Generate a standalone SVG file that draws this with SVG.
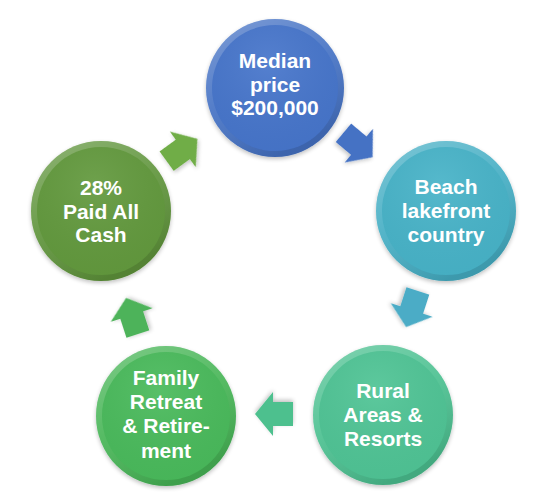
<svg xmlns="http://www.w3.org/2000/svg" width="543" height="502" viewBox="0 0 543 502">
<defs>
<filter id="sh" x="-20%" y="-20%" width="140%" height="150%">
<feGaussianBlur in="SourceAlpha" stdDeviation="2"/>
<feOffset dx="0" dy="2" result="b"/>
<feComponentTransfer><feFuncA type="linear" slope="0.25"/></feComponentTransfer>
<feMerge><feMergeNode/><feMergeNode in="SourceGraphic"/></feMerge>
</filter>
<linearGradient id="rim" x1="0" y1="0" x2="0.5" y2="1">
<stop offset="0" stop-color="#fff" stop-opacity="0.3"/>
<stop offset="0.55" stop-color="#fff" stop-opacity="0.08"/>
<stop offset="1" stop-color="#000" stop-opacity="0.12"/>
</linearGradient>
<radialGradient id="face" cx="0.45" cy="0.3" r="0.8">
<stop offset="0" stop-color="#fff" stop-opacity="0.08"/>
<stop offset="1" stop-color="#000" stop-opacity="0.03"/>
</radialGradient>
<path id="arr" d="M-19,-12 L1,-12 L1,-22 L19,0 L1,22 L1,12 L-19,12 Z"/>
</defs>
<style>
.lbl{font-family:"Liberation Sans",Arial,sans-serif;font-weight:bold;font-size:21px;fill:#fff;text-anchor:middle}
.rim{fill:url(#rim)}
.face{fill:url(#face)}
</style>
<g id="connectors">
<use href="#arr" fill="#4472C4" filter="url(#sh)" transform="translate(358,145) rotate(40)"/>
<use href="#arr" fill="#4BACC6" filter="url(#sh)" transform="translate(412,309) rotate(108)"/>
<use href="#arr" fill="#4DC08E" filter="url(#sh)" transform="translate(274,414) rotate(180)"/>
<use href="#arr" fill="#4DB35A" filter="url(#sh)" transform="translate(132,316) rotate(252)"/>
<use href="#arr" fill="#70AD47" filter="url(#sh)" transform="translate(182,150) rotate(324)"/>
</g>
<g id="n1">
<circle cx="275" cy="88" r="69" fill="#4472C4" filter="url(#sh)"/>
<circle cx="275" cy="88" r="69" class="rim"/>
<circle cx="275" cy="88" r="63" fill="#4675CB"/>
<circle cx="275" cy="88" r="63" class="face"/>
<text class="lbl" x="275" y="68">Median</text>
<text class="lbl" x="275" y="92">price</text>
<text class="lbl" x="275" y="115">$200,000</text>
</g>
<g id="n2">
<circle cx="446" cy="211" r="70" fill="#44AEC4" filter="url(#sh)"/>
<circle cx="446" cy="211" r="70" class="rim"/>
<circle cx="446" cy="211" r="64" fill="#47B3C8"/>
<circle cx="446" cy="211" r="64" class="face"/>
<text class="lbl" x="446" y="194">Beach</text>
<text class="lbl" x="446" y="218">lakefront</text>
<text class="lbl" x="446" y="242">country</text>
</g>
<g id="n3">
<circle cx="383" cy="415" r="70" fill="#4CC090" filter="url(#sh)"/>
<circle cx="383" cy="415" r="70" class="rim"/>
<circle cx="383" cy="415" r="64" fill="#4FC495"/>
<circle cx="383" cy="415" r="64" class="face"/>
<text class="lbl" x="383" y="398">Rural</text>
<text class="lbl" x="383" y="422">Areas &amp;</text>
<text class="lbl" x="383" y="446">Resorts</text>
</g>
<g id="n4">
<circle cx="166" cy="416" r="70" fill="#46B557" filter="url(#sh)"/>
<circle cx="166" cy="416" r="70" class="rim"/>
<circle cx="166" cy="416" r="64" fill="#49BA5B"/>
<circle cx="166" cy="416" r="64" class="face"/>
<text class="lbl" x="166" y="385">Family</text>
<text class="lbl" x="166" y="409">Retreat</text>
<text class="lbl" x="166" y="433">&amp; Retire-</text>
<text class="lbl" x="166" y="458">ment</text>
</g>
<g id="n5">
<circle cx="101" cy="211" r="70" fill="#5F943A" filter="url(#sh)"/>
<circle cx="101" cy="211" r="70" class="rim"/>
<circle cx="101" cy="211" r="64" fill="#62993D"/>
<circle cx="101" cy="211" r="64" class="face"/>
<text class="lbl" x="101" y="195">28%</text>
<text class="lbl" x="101" y="219">Paid All</text>
<text class="lbl" x="101" y="242">Cash</text>
</g>
</svg>
